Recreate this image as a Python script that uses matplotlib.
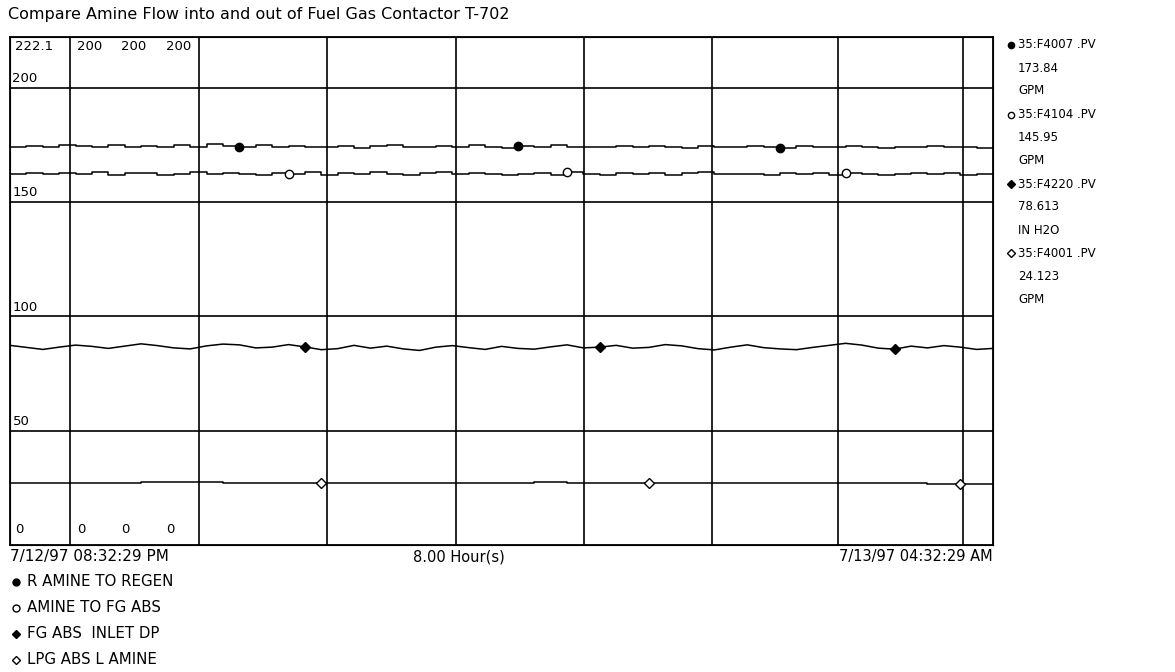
import numpy as np
import matplotlib
matplotlib.use("Agg")
import matplotlib.pyplot as plt

plt.rcParams['font.family'] = ['DejaVu Sans']

# trend data, one sample every 8 minutes over 8 hours
f4007 = [174.2, 174.6, 174.0, 175.1, 174.3, 173.9, 174.8, 174.2, 174.5, 173.8,
         174.9, 174.1, 175.3, 174.4, 174.0, 174.7, 173.9, 174.3, 174.1, 174.1,
         174.6, 173.7, 174.3, 174.8, 174.0, 173.8, 174.5, 174.2, 174.9, 174.0,
         173.6, 174.4, 174.1, 174.7, 173.8, 174.2, 174.0, 174.6, 173.9, 174.5,
         174.2, 173.7, 174.4, 174.1, 173.9, 174.6, 174.0, 173.5, 174.3, 174.1,
         173.8, 174.5, 174.0, 173.6, 174.2, 173.9, 174.4, 173.8, 174.1, 173.7, 173.9]
f4104 = [146.1, 146.6, 145.9, 146.4, 146.0, 146.8, 145.8, 146.3, 146.5, 145.7,
         146.2, 146.9, 145.9, 146.4, 146.0, 145.6, 146.3, 146.1, 146.7, 145.8,
         146.5, 146.0, 146.9, 146.2, 145.7, 146.4, 146.8, 145.9, 146.3, 146.0,
         145.6, 146.2, 146.5, 145.8, 146.9, 146.1, 145.7, 146.4, 146.0, 146.6,
         145.8, 146.3, 146.7, 145.9, 146.2, 146.0, 145.5, 146.4, 146.1, 146.6,
         145.8, 146.3, 146.0, 145.6, 146.2, 146.5, 145.9, 146.3, 145.8, 146.1, 146.0]
f4220 = [78.6, 77.8, 77.0, 77.9, 78.7, 78.2, 77.4, 78.3, 79.2, 78.5,
         77.6, 77.2, 78.4, 79.1, 78.8, 77.6, 77.9, 78.9, 78.0, 76.9,
         77.3, 78.6, 77.5, 78.3, 77.2, 76.6, 77.9, 78.5, 77.7, 77.0,
         78.2, 77.4, 77.1, 78.0, 78.8, 77.6, 77.9, 78.6, 77.5, 77.8,
         78.9, 78.4, 77.3, 76.8, 77.9, 78.8, 77.7, 77.2, 76.9, 77.8,
         78.6, 79.4, 78.7, 77.5, 77.1, 78.3, 77.6, 78.5, 77.9, 77.0, 77.4]
f4001 = [24.6, 24.6, 24.6, 24.6, 24.6, 24.6, 24.6, 24.6, 25.0, 25.0,
         25.0, 25.0, 25.0, 24.6, 24.6, 24.6, 24.6, 24.6, 24.6, 24.6,
         24.3, 24.3, 24.3, 24.3, 24.3, 24.3, 24.3, 24.3, 24.6, 24.6,
         24.6, 24.6, 24.9, 24.9, 24.6, 24.6, 24.6, 24.6, 24.6, 24.6,
         24.3, 24.3, 24.3, 24.3, 24.3, 24.3, 24.6, 24.6, 24.6, 24.3,
         24.3, 24.3, 24.3, 24.3, 24.3, 24.3, 24.0, 24.0, 24.0, 24.0, 24.0]

vlines_min = [29.3, 92.3, 154.8, 217.8, 280.3, 342.8, 404.3, 465.3]
hgrid = [50, 100, 150, 200]
scale_tops = ["222.1", "200", "200", "200"]
legend_names = ["R AMINE TO REGEN", "AMINE TO FG ABS", "FG ABS  INLET DP", "LPG ABS L AMINE"]
tags = ["35:F4007 .PV", "35:F4104 .PV", "35:F4220 .PV", "35:F4001 .PV"]
values = ["173.84", "145.95", "78.613", "24.123"]
units = ["GPM", "GPM", "IN H2O", "GPM"]

t = np.linspace(0, 480, len(f4007))

fig = plt.figure(figsize=(11.75, 6.72), dpi=100)
ax = fig.add_axes([10 / 1175, 1 - 545 / 672, 983 / 1175, 508 / 672])
ax2 = ax.twinx()
for a in (ax, ax2):
    a.set_xlim(0, 480)
    a.set_xticks([])
    a.set_yticks([])
ax.set_ylim(0, 222.1)
ax2.set_ylim(0, 200)
for s in ax.spines.values():
    s.set_linewidth(1.3)

for y in hgrid:
    ax.axhline(y, color='black', lw=1.2)
for x in vlines_min:
    ax.axvline(x, color='black', lw=1.2)

kw = dict(color='black', lw=1.1, ms=6)
ax.plot(t, f4007, drawstyle='steps-post', marker='o', markevery=[14, 31, 47], **kw)
ax2.plot(t, f4104, drawstyle='steps-post', marker='o', mfc='white', markevery=[17, 34, 51], **kw)
ax2.plot(t, f4220, marker='D', markevery=[18, 36, 54], **dict(kw, ms=5))
ax2.plot(t, f4001, drawstyle='steps-post', marker='D', mfc='white', markevery=[19, 39, 58], **dict(kw, ms=5))

# scale labels inside plot
fs = 9.5
for y in hgrid:
    ax.text(1.2, y + 1.2, str(y), fontsize=fs, ha='left', va='bottom')
xs = [2.4, 32.7, 54.2, 76.2]
for x, s in zip(xs, scale_tops):
    ax.text(x, 221.0, s, fontsize=fs, ha='left', va='top')
    ax.text(x, 4, "0", fontsize=fs, ha='left', va='bottom')

fig.text(8 / 1175, 1 - 15 / 672, "Compare Amine Flow into and out of Fuel Gas Contactor T-702",
         fontsize=11.5, ha='left', va='center')
fig.text(10 / 1175, 1 - 557 / 672, "7/12/97 08:32:29 PM", fontsize=11, ha='left', va='center')
fig.text(413 / 1175, 1 - 557 / 672, "8.00 Hour(s)", fontsize=10.5, ha='left', va='center')
fig.text(993 / 1175, 1 - 557 / 672, "7/13/97 04:32:29 AM", fontsize=10.5, ha='right', va='center')

mk = [('o', 'black'), ('o', 'white'), ('D', 'black'), ('D', 'white')]
for i, (name, (m, fc)) in enumerate(zip(legend_names, mk)):
    yy = 1 - (582 + 26 * i) / 672
    fig.lines.append(plt.Line2D([16 / 1175], [yy], marker=m, mfc=fc, mec='black',
                                ms=5 if m == 'o' else 4.5, transform=fig.transFigure))
    fig.text(27 / 1175, yy, name, fontsize=10.8, ha='left', va='center')

for i, (tag, v, u, (m, fc)) in enumerate(zip(tags, values, units, mk)):
    y0 = 45 + 69.5 * i
    yy = 1 - y0 / 672
    fig.lines.append(plt.Line2D([1011 / 1175], [yy], marker=m, mfc=fc, mec='black',
                                ms=4.5 if m == 'o' else 4, transform=fig.transFigure))
    fig.text(1018 / 1175, yy, tag, fontsize=8.5, ha='left', va='center')
    fig.text(1018 / 1175, 1 - (y0 + 23) / 672, v, fontsize=8.5, ha='left', va='center')
    fig.text(1018 / 1175, 1 - (y0 + 46) / 672, u, fontsize=8.5, ha='left', va='center')

fig.savefig("out.png", dpi=100, facecolor='white')
